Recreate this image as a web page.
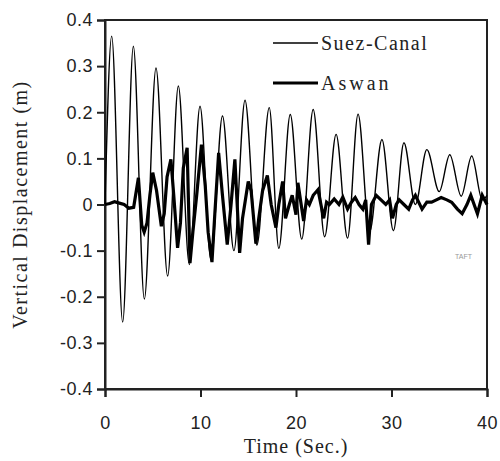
<!DOCTYPE html>
<html>
<head>
<meta charset="utf-8">
<script src="https://cdn.jsdelivr.net/npm/d3@7"></script>
<style>
  body { margin: 0; background: #fff; }
  svg { display: block; }
</style>
</head>
<body>
<div id="chart"></div>
<script>
// time (s) and vertical displacement (m)
let suezTime = [0, 0.7, 1.85, 2.97, 4.12, 5.34, 6.56, 7.68, 8.83, 9.95, 11.1, 12.3, 13.5, 14.66, 15.9, 17.2, 18.2, 19.4, 20.6, 21.8, 23.0, 24.2, 25.4, 26.5, 27.7, 29.0, 30.2, 31.3, 32.5, 33.7, 35.0, 36.1, 37.3, 38.4, 39.5, 40];
let suezDisp = [0, 0.365, -0.255, 0.343, -0.205, 0.296, -0.155, 0.257, -0.13, 0.213, -0.12, 0.192, -0.1, 0.226, -0.088, 0.21, -0.095, 0.195, -0.075, 0.206, -0.07, 0.152, -0.073, 0.196, -0.06, 0.141, -0.057, 0.134, 0.0, 0.119, 0.028, 0.108, 0.018, 0.105, 0.01, 0.02];

let aswanTime = [0, 0.5, 1.0, 1.5, 2.0, 2.5, 3.0, 3.5, 3.85, 4.1, 4.4, 4.7, 5.0, 5.4, 5.9, 6.2, 6.5, 6.9, 7.2, 7.6, 7.9, 8.2, 8.6, 8.9, 9.2, 9.6, 10.1, 10.5, 10.8, 11.2, 11.5, 11.9, 12.3, 12.8, 13.2, 13.6, 14.1, 14.4, 14.7, 15.0, 15.3, 15.8, 16.1, 16.5, 17.0, 17.4, 17.9, 18.2, 18.6, 18.9, 19.3, 19.6, 20.0, 20.2, 20.8, 21.1, 21.4, 21.8, 22.3, 22.9, 23.2, 23.5, 24.0, 24.5, 24.9, 25.4, 25.8, 26.2, 26.6, 27.0, 27.3, 27.6, 27.9, 28.4, 28.9, 29.4, 29.8, 30.1, 30.5, 30.8, 31.3, 31.8, 32.2, 32.5, 33.2, 33.7, 34.2, 34.7, 35.2, 35.8, 36.3, 36.9, 37.4, 37.9, 38.3, 39.0, 39.5, 40];
let aswanDisp = [0, 0.002, 0.006, 0.003, 0, -0.008, -0.006, 0.058, -0.045, -0.06, -0.04, 0.02, 0.069, 0.03, -0.047, -0.02, 0.06, 0.098, 0.02, -0.094, -0.04, 0.079, 0.123, -0.127, -0.06, 0.02, 0.13, 0.04, -0.06, -0.125, -0.02, 0.112, 0.02, -0.087, 0.0, 0.098, -0.105, -0.03, 0.01, 0.05, 0.03, -0.085, -0.03, 0.03, 0.063, 0.0, -0.05, 0.0, 0.05, -0.03, 0.0, 0.02, -0.022, 0.047, -0.036, 0.01, 0.0, 0.02, 0.032, -0.03, 0.005, 0.0, 0.012, 0.0, 0.016, -0.01, 0.005, 0.015, 0.0, -0.01, 0.01, -0.087, 0.0, 0.02, 0.01, 0.0, 0.01, -0.03, 0.0, 0.01, 0.0, -0.01, 0.01, 0.02, -0.01, 0.005, 0.005, 0.01, 0.015, 0.01, 0.005, -0.01, -0.02, 0.0, 0.02, -0.02, 0.02, 0.0];

let xTicks = [0, 10, 20, 30, 40];
let yTicks = [-0.4, -0.3, -0.2, -0.1, 0, 0.1, 0.2, 0.3, 0.4];
let seriesNames = ["Suez-Canal", "Aswan"];

let serif = `"Liberation Serif", "Times New Roman", serif`;
let sans = `"Liberation Sans", Arial, sans-serif`;

let width = 500,
  height = 461,
  margin = { left: 105, right: 13, top: 20, bottom: 72 };

let svg = d3
  .select("#chart")
  .append("svg")
  .attr("width", width)
  .attr("height", height);

let x = d3
  .scaleLinear()
  .domain([0, 40])
  .range([margin.left, width - margin.right]);

let y = d3
  .scaleLinear()
  .domain([-0.4, 0.4])
  .range([height - margin.bottom, margin.top]);

// frame
svg
  .append("rect")
  .attr("x", x(0))
  .attr("y", y(0.4))
  .attr("width", x(40) - x(0))
  .attr("height", y(-0.4) - y(0.4))
  .attr("fill", "none")
  .attr("stroke", "#222")
  .attr("stroke-width", 2);

let xAxis = svg
  .append("g")
  .attr("transform", `translate(0, ${y(-0.4)})`)
  .call(
    d3
      .axisBottom(x)
      .tickValues(xTicks)
      .tickSize(8)
      .tickFormat(d => `${d}`)
  );

let yAxis = svg
  .append("g")
  .attr("transform", `translate(${x(0)}, 0)`)
  .call(
    d3
      .axisLeft(y)
      .tickValues(yTicks)
      .tickSize(8)
      .tickFormat(d => (d === 0 ? "0" : d.toFixed(1)))
  );

[xAxis, yAxis].forEach(g => {
  g.select(".domain").attr("stroke", "#222").attr("stroke-width", 2);
  g.selectAll(".tick line").attr("stroke", "#222").attr("stroke-width", 2);
  g.selectAll(".tick text")
    .style("font-family", sans)
    .style("font-size", "18px")
    .style("letter-spacing", "0.5px")
    .attr("fill", "#222");
});
xAxis.selectAll(".tick text").attr("dy", "1.6em");
yAxis.selectAll(".tick text").attr("x", -12);

// series
let smooth = d3
  .line()
  .x(d => x(d[0]))
  .y(d => y(d[1]))
  .curve(d3.curveMonotoneX);

let jagged = d3
  .line()
  .x(d => x(d[0]))
  .y(d => y(d[1]));

let suez = suezTime.map((t, i) => [t, suezDisp[i]]);
let aswan = aswanTime.map((t, i) => [t, aswanDisp[i]]);

svg
  .append("path")
  .datum(suez)
  .attr("d", smooth)
  .attr("fill", "none")
  .attr("stroke", "#000")
  .attr("stroke-width", 1.4);

svg
  .append("path")
  .datum(aswan)
  .attr("d", jagged)
  .attr("fill", "none")
  .attr("stroke", "#000")
  .attr("stroke-width", 3.2);

// legend
let legend = svg.append("g").attr("class", "legend");
seriesNames.forEach((name, i) => {
  let ly = 43 + i * 40;
  legend
    .append("line")
    .attr("x1", 273)
    .attr("x2", 318)
    .attr("y1", ly)
    .attr("y2", ly)
    .attr("stroke", "#000")
    .attr("stroke-width", i === 0 ? 1.4 : 3.2);
  legend
    .append("text")
    .attr("x", 321)
    .attr("y", ly + 7)
    .style("font-family", serif)
    .style("font-size", "20px")
    .style("letter-spacing", i === 0 ? "1.5px" : "3px")
    .attr("fill", "#222")
    .text(name);
});

// tiny watermark label
svg
  .append("text")
  .attr("x", 455)
  .attr("y", 259)
  .style("font-family", sans)
  .style("font-size", "7px")
  .attr("fill", "#999")
  .text("TAFT");

// axis titles
svg
  .append("text")
  .attr("x", (x(0) + x(40)) / 2)
  .attr("y", 453)
  .attr("text-anchor", "middle")
  .style("font-family", serif)
  .style("font-size", "20px")
  .style("letter-spacing", "1px")
  .attr("fill", "#222")
  .text("Time (Sec.)");

svg
  .append("text")
  .attr("transform", `translate(27, ${(y(-0.4) + y(0.4)) / 2}) rotate(-90)`)
  .attr("text-anchor", "middle")
  .style("font-family", serif)
  .style("font-size", "20px")
  .style("letter-spacing", "1.5px")
  .attr("fill", "#222")
  .text("Vertical Displacement (m)");
</script>
</body>
</html>
